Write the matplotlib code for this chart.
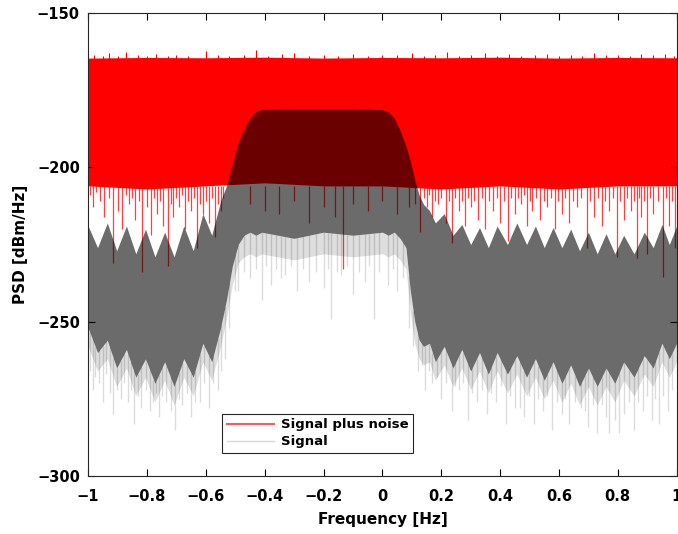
import numpy as np
import matplotlib.pyplot as plt
from matplotlib.lines import Line2D

plt.rcParams['font.family'] = ['DejaVu Sans']

# red band: signal plus noise (dense part + spikes)
red_f = [-1.0, -0.8, -0.6, -0.4, -0.2, 0.0, 0.2, 0.4, 0.6, 0.8, 1.0]
red_top = [-164.6, -164.4, -164.5, -164.3, -164.6, -164.4, -164.5, -164.3, -164.6, -164.4, -164.5]
red_bot = [-206, -207, -206, -205, -206, -206, -207, -206, -207, -206, -206]

red_up_f = [-0.98, -0.95, -0.93, -0.9, -0.87, -0.83, -0.8, -0.77, -0.73, -0.7, -0.66, -0.6,
            -0.56, -0.52, -0.47, -0.43, -0.39, -0.34, -0.3, -0.25, -0.2, -0.15, -0.1, -0.05,
            0.0, 0.05, 0.1, 0.14, 0.18, 0.22, 0.26, 0.3, 0.35, 0.39, 0.43, 0.47, 0.52, 0.56,
            0.6, 0.64, 0.68, 0.72, 0.76, 0.8, 0.84, 0.88, 0.92, 0.96, 0.99]
red_up_db = [-163.5, -163.8, -163, -163.9, -162.5, -163.6, -164, -163.2, -163.8, -163.5, -163.9, -162.2,
             -163.6, -163.9, -163.5, -162, -163.8, -163.4, -163, -163.9, -163.5, -163.8, -163.4, -163.9,
             -163.5, -163.7, -163, -163.8, -163.5, -162.6, -163.9, -163.6, -163, -163.8, -163.4, -163.9, -163.5, -163.4,
             -163.8, -163.5, -163.9, -162.8, -163.7, -163.5, -163.9, -163.2, -163.7, -163.4, -163.8]

red_dn_f = [-0.995, -0.985, -0.972, -0.96, -0.945, -0.93, -0.915, -0.9, -0.885, -0.872, -0.86,
            -0.85, -0.84, -0.828, -0.817, -0.8, -0.785, -0.775, -0.765, -0.755, -0.745, -0.73,
            -0.72, -0.71, -0.7, -0.69, -0.68, -0.67, -0.66, -0.65, -0.64, -0.63, -0.62, -0.61,
            -0.6, -0.59, -0.58, -0.57, -0.56, -0.55, -0.54,
            -0.45, -0.4, -0.35, -0.3, -0.25, -0.2, -0.16, -0.134, -0.1, -0.05, 0.0, 0.05, 0.09,
            0.11, 0.127, 0.14, 0.15, 0.16, 0.17, 0.18, 0.19, 0.2, 0.215, 0.225, 0.236, 0.248,
            0.26, 0.27, 0.28, 0.29, 0.3, 0.312, 0.325, 0.338, 0.35, 0.362, 0.375, 0.388, 0.4,
            0.413, 0.426, 0.438, 0.45, 0.46, 0.47, 0.48, 0.49, 0.5, 0.51, 0.522, 0.535, 0.548,
            0.56, 0.572, 0.585, 0.598, 0.61, 0.622, 0.635, 0.648, 0.66, 0.675, 0.694, 0.707,
            0.72, 0.733, 0.745, 0.758, 0.77, 0.783, 0.796, 0.808, 0.82, 0.832, 0.845, 0.855,
            0.864, 0.872, 0.88, 0.89, 0.9, 0.91, 0.92, 0.935, 0.953, 0.965, 0.975, 0.985, 0.995]
red_dn_db = [-209, -213, -208, -211, -216, -210, -231, -214, -220, -209, -212,
             -210, -217, -211, -234, -213, -222, -210, -215, -211, -219, -232,
             -212, -216, -210, -213, -209, -220, -211, -214, -210, -226, -212, -215,
             -211, -218, -210, -222.5, -212, -214, -210,
             -212, -214, -215, -211, -218, -213, -216, -233, -212, -214, -211, -215, -213,
             -212, -221, -210, -213, -209, -216, -211, -212, -210, -218, -211, -224.5, -210,
             -214, -211, -219, -210, -213, -211, -217, -210, -220, -211, -214, -210, -218,
             -211, -224, -210, -215, -210, -212, -209, -219, -211, -214, -210, -217, -211,
             -213, -210, -220, -211, -215, -210, -218, -211, -213, -210, -226, -211,
             -216, -210, -219, -211, -214, -210, -229, -211, -217, -210, -214, -211,
             -229.5, -210, -216, -211, -228, -210, -215, -211, -235.5, -210, -219, -211, -226]

# signal: dense envelope (top / bottom) with sidelobes
sig_f = [-1.0, -0.968, -0.935, -0.903, -0.87, -0.838, -0.805, -0.773, -0.74, -0.708,
         -0.675, -0.643, -0.61, -0.58, -0.55, -0.53, -0.51, -0.49, -0.47, -0.45, -0.43,
         -0.41, -0.3, -0.2, -0.1, 0.0, 0.02, 0.04, 0.06, 0.08, 0.095, 0.11, 0.125, 0.14,
         0.16, 0.18, 0.21, 0.24, 0.27, 0.30, 0.33, 0.36, 0.39, 0.425, 0.457, 0.49, 0.52,
         0.55, 0.58, 0.61, 0.64, 0.67, 0.70, 0.73, 0.76, 0.79, 0.82, 0.855, 0.89, 0.92,
         0.95, 0.975, 1.0]
sig_top = [-219, -226, -218, -227, -219, -228, -220, -229, -221, -229,
           -219, -227, -215, -222, -211, -206, -199, -192, -187.5, -184, -182,
           -181.2, -181, -181, -181, -181.3, -182, -184, -188, -193, -198, -204, -209, -212,
           -214, -218, -215, -222, -218.5, -225, -219.5, -226, -219, -225, -218, -225, -219,
           -226, -219.5, -226, -220, -227, -221, -228, -221.5, -228, -222, -228, -221, -226,
           -218.5, -225, -219]
sig_bot = [-252, -260, -256, -265, -259, -268, -262, -270, -263, -271,
           -262, -268, -257, -263, -252, -243, -232, -225, -222, -221, -222,
           -221, -223, -221, -222, -221, -222, -221, -223, -226, -240, -250, -256, -258,
           -257, -263, -258, -265, -259, -266, -260, -267, -260, -267, -261, -268, -262,
           -269, -263, -270, -264, -271, -265, -271, -265, -270, -263, -268, -261, -265,
           -257, -262, -257]
sig_light = [-258, -266, -262, -271, -265, -274, -268, -276, -269, -277,
             -268, -274, -263, -269, -258, -249, -238, -231, -229, -228, -229,
             -228, -230, -228, -229, -228, -229, -228, -230, -233, -247, -257, -262, -264,
             -263, -269, -264, -271, -265, -272, -266, -273, -266, -273, -267, -274, -268,
             -275, -269, -276, -270, -277, -271, -277, -271, -276, -269, -274, -267, -271,
             -263, -268, -263]

sig_dn_f = [-0.995, -0.985, -0.975, -0.962, -0.95, -0.938, -0.927, -0.915, -0.903, -0.89,
            -0.878, -0.865, -0.855, -0.845, -0.832, -0.82, -0.805, -0.79, -0.778, -0.77,
            -0.76, -0.748, -0.735, -0.72, -0.705, -0.692, -0.68, -0.665, -0.65, -0.638,
            -0.62, -0.605, -0.59, -0.575, -0.56, -0.548, -0.535, -0.52,
            -0.5, -0.49, -0.47, -0.45, -0.43, -0.41, -0.395, -0.38, -0.36, -0.345, -0.33,
            -0.31, -0.29, -0.27, -0.25, -0.225, -0.2, -0.185, -0.175, -0.155, -0.14, -0.12,
            -0.1, -0.08, -0.06, -0.045, -0.03, -0.01, 0.02, 0.035, 0.05, 0.07,
            0.09, 0.105, 0.12, 0.133, 0.145, 0.158, 0.17, 0.185, 0.2, 0.215, 0.235, 0.248,
            0.26, 0.275, 0.29, 0.305, 0.32, 0.338, 0.355, 0.37, 0.385, 0.402, 0.42, 0.435,
            0.45, 0.467, 0.48, 0.498, 0.515, 0.53, 0.545, 0.56, 0.575, 0.592, 0.61, 0.622,
            0.634, 0.655, 0.675, 0.688, 0.7, 0.715, 0.73, 0.745, 0.76, 0.77, 0.79, 0.804,
            0.82, 0.838, 0.855, 0.87, 0.885, 0.9, 0.915, 0.928, 0.94, 0.955, 0.97, 0.985]
sig_dn_db = [-266, -272, -268, -270, -276, -267, -273, -280, -272, -275,
             -270, -276, -272, -283, -274, -278, -272, -279, -276, -273,
             -281, -274, -276, -279, -285, -275, -277, -273, -281, -276,
             -276, -270, -278, -270, -272, -266, -262, -252,
             -240, -240, -234, -236, -233, -243, -232, -238, -233, -236, -235,
             -232, -240, -233, -237, -234, -239, -233, -249, -234, -235, -232,
             -241, -234, -237, -232, -249, -234, -238, -233, -240, -236,
             -252, -258, -266, -264, -272, -266, -270, -268, -275, -270, -279, -271,
             -272, -270, -282, -273, -276, -272, -280, -273, -276, -271, -283, -274,
             -278, -278, -281, -274, -283, -275, -279, -274, -285, -276, -280, -275,
             -283, -276, -278, -279, -284, -277, -286, -277, -281, -286, -282, -286,
             -280, -276, -285, -276, -279, -274, -282, -275, -283, -274, -279, -272]

fig = plt.figure(figsize=(6.78, 5.34), dpi=100)
ax = fig.add_axes([0.13, 0.1086, 0.868, 0.867])

# signal plus noise
ax.fill_between(red_f, red_bot, red_top, color='red', lw=0, zorder=1)
ax.vlines(red_up_f, -165, red_up_db, color='red', lw=0.8, zorder=1)
ax.vlines(red_dn_f, -206, red_dn_db, color='red', lw=0.9, alpha=0.75, zorder=1)

# signal (translucent black over red)
ax.fill_between(sig_f, sig_light, sig_bot, color='black', alpha=0.13, lw=0, zorder=2)
ax.fill_between(sig_f, sig_bot, sig_top, color='black', alpha=0.58, lw=0, zorder=2)
spike_start = np.interp(sig_dn_f, sig_f, sig_bot)
ax.vlines(sig_dn_f, spike_start, sig_dn_db, color='black', alpha=0.14, lw=1.0, zorder=2)

ax.set_xlim(-1, 1)
ax.set_ylim(-300, -150)
ax.set_xticks([-1, -0.8, -0.6, -0.4, -0.2, 0, 0.2, 0.4, 0.6, 0.8, 1])
ax.set_xticklabels(['\u22121', '\u22120.8', '\u22120.6', '\u22120.4', '\u22120.2', '0',
                    '0.2', '0.4', '0.6', '0.8', '1'])
ax.set_yticks([-300, -250, -200, -150])
ax.tick_params(direction='in', top=True, right=True, length=5, width=0.8, labelsize=10.5)
ax.tick_params(axis='x', pad=9)
ax.tick_params(axis='y', pad=6)
for lab in ax.get_xticklabels() + ax.get_yticklabels():
    lab.set_fontweight('bold')
for s in ax.spines.values():
    s.set_linewidth(0.8)
    s.set_color('#262626')

ax.set_xlabel('Frequency [Hz]', fontsize=11, fontweight='bold', labelpad=6)
ax.set_ylabel('PSD [dBm/Hz]', fontsize=11, fontweight='bold', labelpad=6)

handles = [Line2D([], [], color='red', alpha=0.65, lw=1.5),
           Line2D([], [], color='#d9d9d9', lw=1)]
leg = ax.legend(handles, ['Signal plus noise', 'Signal'], loc='lower left',
                bbox_to_anchor=(0.2275, 0.0497), fancybox=False, framealpha=1,
                edgecolor='#262626', prop={'weight': 'bold', 'size': 9.5},
                handlelength=3.6, borderpad=0.35, labelspacing=0.3, handletextpad=0.5,
                borderaxespad=0)
leg.get_frame().set_linewidth(0.8)
leg.set_zorder(5)

fig.savefig('out.png', dpi=100)
